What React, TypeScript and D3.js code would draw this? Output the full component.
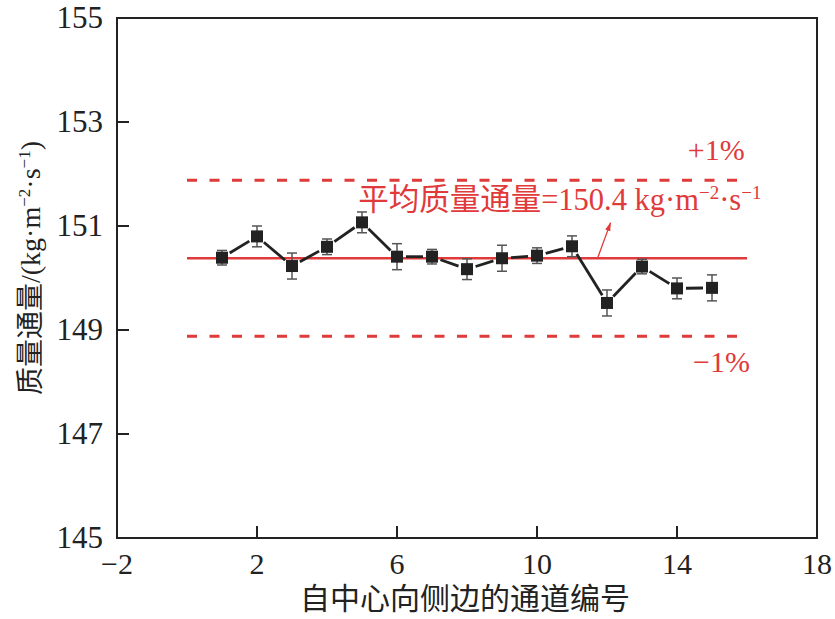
import React from 'react';
import * as d3 from 'd3';

// channel number counted from the centre towards the side
const channels = [1, 2, 3, 4, 5, 6, 7, 8, 9, 10, 11, 12, 13, 14, 15];
const massFlux = [150.39, 150.8, 150.23, 150.6, 151.07, 150.41, 150.41, 150.17, 150.38, 150.43, 150.61, 149.52, 150.22, 149.8, 149.81];
const fluxErr = [0.14, 0.2, 0.25, 0.15, 0.2, 0.25, 0.14, 0.2, 0.25, 0.15, 0.2, 0.25, 0.14, 0.2, 0.25];

const meanFlux = 150.38;
const upperBound = 151.88;
const lowerBound = 148.88;
const refRange = [0, 16];

const xTicks = [-2, 2, 6, 10, 14, 18];
const yTicks = [145, 147, 149, 151, 153, 155];

const W = 835;
const H = 619;
const left = 117;
const right = 817;
const top = 18;
const bottom = 538;

const RED = '#e03a3a';
const DARK = '#222';
const FONT = '"Liberation Serif", "Times New Roman", "Noto Sans CJK SC", serif';

const App = () => {
  const x = d3.scaleLinear().domain([-2, 18]).range([left, right]);
  const y = d3.scaleLinear().domain([145, 155]).range([bottom, top]);
  const fmt = d3.format('d');

  const pts = channels.map((c, i) => ({ c, v: massFlux[i], e: fluxErr[i] }));

  // line segments with a small gap next to the markers
  const segs = pts.slice(1).map((p, i) => {
    const a = pts[i];
    const x1 = x(a.c), y1 = y(a.v), x2 = x(p.c), y2 = y(p.v);
    const len = Math.hypot(x2 - x1, y2 - y1);
    const g = 9 / len;
    return {
      x1: x1 + (x2 - x1) * g, y1: y1 + (y2 - y1) * g,
      x2: x2 - (x2 - x1) * g, y2: y2 - (y2 - y1) * g,
    };
  });

  const arrowFrom = [11.73, meanFlux];
  const arrowTo = [12.1, 151.06];

  return (
    <svg width={W} height={H} style={{ position: 'absolute', left: 0, top: 0, background: '#fff' }}
      fontFamily={FONT}>
      <defs>
        <marker id="head" viewBox="0 0 10 10" refX="9" refY="5" markerWidth="9" markerHeight="9"
          markerUnits="userSpaceOnUse" orient="auto">
          <path d="M0,2 L10,5 L0,8 Z" fill={RED} />
        </marker>
      </defs>

      {/* frame */}
      <rect x={left} y={top} width={right - left} height={bottom - top} fill="none" stroke={DARK} strokeWidth={2} />

      {/* ticks */}
      {xTicks.slice(1, -1).map(t => (
        <line key={'xt' + t} x1={x(t)} x2={x(t)} y1={bottom} y2={bottom - 12} stroke={DARK} strokeWidth={2} />
      ))}
      {yTicks.slice(1, -1).map(t => (
        <line key={'yt' + t} x1={left} x2={left + 12} y1={y(t)} y2={y(t)} stroke={DARK} strokeWidth={2} />
      ))}
      {xTicks.map(t => (
        <text key={'xl' + t} x={x(t)} y={bottom + 36} textAnchor="middle" fontSize={30} fill={DARK}>
          {fmt(t)}
        </text>
      ))}
      {yTicks.map(t => (
        <text key={'yl' + t} x={left - 14} y={y(t) + 10} textAnchor="end" fontSize={31} fill={DARK}>
          {fmt(t)}
        </text>
      ))}

      {/* axis titles */}
      <text x={(left + right) / 2 - 2} y={609} textAnchor="middle" fontSize={30} fill={DARK}>
        自中心向侧边的通道编号
      </text>
      <text transform={`translate(40, ${268}) rotate(-90)`} textAnchor="middle" fontSize={28} fill={DARK}>
        质量通量/(kg·m<tspan dy={-10} fontSize={17}>−2</tspan><tspan dy={10}>·s</tspan>
        <tspan dy={-10} fontSize={17}>−1</tspan><tspan dy={10}>)</tspan>
      </text>

      {/* reference lines */}
      <line x1={x(refRange[0])} x2={x(refRange[1])} y1={y(upperBound)} y2={y(upperBound)}
        stroke={RED} strokeWidth={2.8} strokeDasharray="10,12.5" />
      <line x1={x(refRange[0])} x2={x(refRange[1])} y1={y(lowerBound)} y2={y(lowerBound)}
        stroke={RED} strokeWidth={2.8} strokeDasharray="10,12.5" />
      <line x1={x(refRange[0])} x2={x(refRange[1])} y1={y(meanFlux)} y2={y(meanFlux)}
        stroke={RED} strokeWidth={2.5} />

      <text x={x(14.31)} y={y(152.27)} fontSize={30} fill={RED}>+1%</text>
      <text x={x(14.46)} y={y(148.19)} fontSize={30} fill={RED}>−1%</text>
      <text x={x(4.89)} y={y(151.31)} fontSize={30.5} fill={RED}>
        平均质量通量=150.4 kg·m<tspan dy={-11} fontSize={19}>−2</tspan><tspan dy={11}>·s</tspan>
        <tspan dy={-11} fontSize={19}>−1</tspan>
      </text>
      <line x1={x(arrowFrom[0])} y1={y(arrowFrom[1])} x2={x(arrowTo[0])} y2={y(arrowTo[1])}
        stroke={RED} strokeWidth={1.3} markerEnd="url(#head)" />

      {/* data line */}
      {segs.map((s, i) => (
        <line key={'s' + i} {...s} stroke={DARK} strokeWidth={2.8} />
      ))}

      {/* error bars */}
      {pts.map(p => (
        <g key={'e' + p.c} stroke="#555" strokeWidth={1.5}>
          <line x1={x(p.c)} x2={x(p.c)} y1={y(p.v - p.e)} y2={y(p.v + p.e)} />
          <line x1={x(p.c) - 5} x2={x(p.c) + 5} y1={y(p.v - p.e)} y2={y(p.v - p.e)} />
          <line x1={x(p.c) - 5} x2={x(p.c) + 5} y1={y(p.v + p.e)} y2={y(p.v + p.e)} />
        </g>
      ))}

      {/* markers */}
      {pts.map(p => (
        <rect key={'m' + p.c} x={x(p.c) - 6} y={y(p.v) - 6} width={12} height={12} fill={DARK} />
      ))}
    </svg>
  );
};

export default App;
